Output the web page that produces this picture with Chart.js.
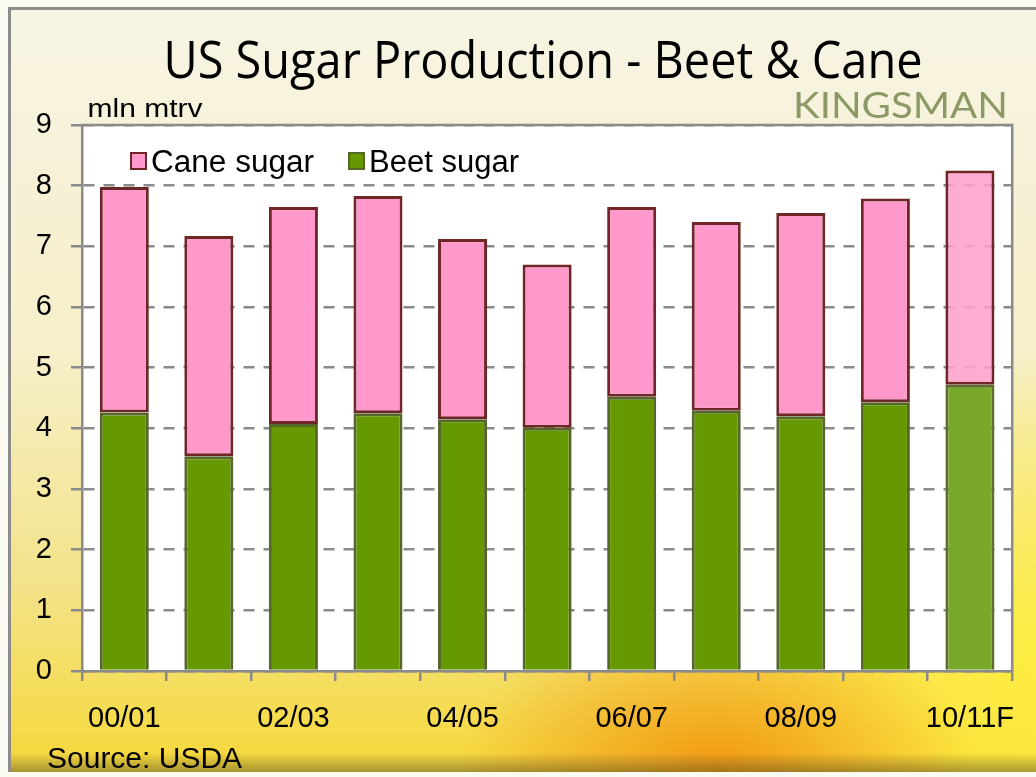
<!DOCTYPE html>
<html>
<head>
<meta charset="utf-8">
<script src="https://cdn.jsdelivr.net/npm/chart.js@4"></script>
<style>
  html, body { margin: 0; padding: 0; background: #fbfaf2; }
  #wrap { position: relative; width: 1036px; height: 777px; overflow: hidden; }
  #frame {
    position: absolute; left: 8px; top: 7px; width: 1040px; height: 762px;
    border-top: 3px solid #8c8c8c; border-left: 3px solid #8c8c8c;
    background:
      linear-gradient(to bottom, rgba(0,0,0,0) 97.5%, rgba(90,80,40,0.5) 100%),
      radial-gradient(ellipse 260px 170px at 68% 100%, rgba(240,140,10,0.85), rgba(240,150,20,0) 100%),
      radial-gradient(ellipse 500px 300px at 100% 85%, rgba(255,238,60,0.9), rgba(255,238,60,0) 100%),
      linear-gradient(to bottom, #f7f4e4 0%, #f6efc9 45%, #f3e38a 75%, #f6d838 100%);
  }
  canvas { position: absolute; left: 0; top: 0; }
</style>
</head>
<body>
<div id="wrap">
  <div id="frame"></div>
  <canvas id="chart" width="1036" height="777"></canvas>
</div>
<script>
const categories = ['00/01', '01/02', '02/03', '03/04', '04/05', '05/06', '06/07', '07/08', '08/09', '09/10', '10/11F'];
const beetSugar = [4.26, 3.54, 4.07, 4.25, 4.15, 4.01, 4.52, 4.29, 4.20, 4.43, 4.72];
const caneSugar = [3.72, 3.63, 3.58, 3.58, 2.97, 2.69, 3.13, 3.11, 3.35, 3.36, 3.53];
const yTicks = [0, 1, 2, 3, 4, 5, 6, 7, 8, 9];

const PINK = '#ff99cc';
const GREEN = '#669900';
const MAROON = '#6e2626';
const OLIVE = '#56672c';
const GRID = '#8a8a8a';
const lastIdx = categories.length - 1;

// draw text squeezed/stretched to a given width
function fitText(ctx, text, x, y, width, font, color, align) {
  ctx.save();
  ctx.font = font;
  ctx.fillStyle = color;
  ctx.textBaseline = 'alphabetic';
  ctx.textAlign = 'left';
  const w = ctx.measureText(text).width;
  const s = width / w;
  let left = x;
  if (align === 'center') left = x - width / 2;
  if (align === 'right') left = x - width;
  ctx.translate(left, y);
  ctx.scale(s, 1);
  ctx.fillText(text, 0, 0);
  ctx.restore();
}

const decor = {
  id: 'decor',
  beforeDraw(chart) {
    const { ctx, chartArea: a } = chart;
    ctx.save();
    ctx.fillStyle = '#ffffff';
    ctx.fillRect(a.left, a.top, a.right - a.left, a.bottom - a.top);
    ctx.restore();
  },
  afterDraw(chart) {
    const { ctx, chartArea: a } = chart;
    ctx.save();
    ctx.strokeStyle = GRID;
    ctx.lineWidth = 2.5;
    ctx.beginPath();
    ctx.moveTo(a.left, a.top);
    ctx.lineTo(a.right, a.top);
    ctx.lineTo(a.right, a.bottom);
    ctx.stroke();
    ctx.restore();

    fitText(ctx, 'US Sugar Production - Beet & Cane', 543, 78, 759, '52px "Open Sans"', '#000', 'center');
    fitText(ctx, 'KINGSMAN', 1008, 118, 215, '36px Lato', '#8d9965', 'right');

    ctx.save();
    ctx.fillStyle = '#000';
    ctx.textBaseline = 'alphabetic';
    fitText(ctx, 'mln mtrv', 88 + 57, 117, 115, '26px "Liberation Sans", Arial, sans-serif', '#000', 'center');
    ctx.font = '30px "Liberation Sans", Arial, sans-serif';
    ctx.fillText('Source: USDA', 47, 768);

    // legend: cane first, then beet
    const items = [
      { ds: chart.data.datasets[1], x: 131, w: 163 },
      { ds: chart.data.datasets[0], x: 349, w: 150 }
    ];
    items.forEach(it => {
      ctx.fillStyle = it.ds.legendFill;
      ctx.fillRect(it.x, 153, 15, 16);
      ctx.strokeStyle = it.ds.legendStroke;
      ctx.lineWidth = 2;
      ctx.strokeRect(it.x, 153, 15, 16);
      fitText(ctx, it.ds.label, it.x + 20, 172, it.w, '31px "Liberation Sans", Arial, sans-serif', '#000', 'left');
    });
    ctx.restore();
  }
};

new Chart(document.getElementById('chart'), {
  type: 'bar',
  data: {
    labels: categories,
    datasets: [
      {
        label: 'Beet sugar',
        data: beetSugar,
        backgroundColor: categories.map((c, i) => i === lastIdx ? '#79a82a' : GREEN),
        borderColor: categories.map((c, i) => i === lastIdx ? '#5b6e2e' : OLIVE),
        borderWidth: 3,
        borderSkipped: 'start',
        legendFill: GREEN,
        legendStroke: OLIVE
      },
      {
        label: 'Cane sugar',
        data: caneSugar,
        backgroundColor: categories.map((c, i) => i === lastIdx ? 'rgba(255,160,205,0.88)' : PINK),
        borderColor: MAROON,
        borderWidth: 3,
        borderSkipped: false,
        legendFill: PINK,
        legendStroke: MAROON
      }
    ]
  },
  options: {
    responsive: false,
    animation: false,
    layout: { padding: { top: 125, right: 22, left: 0, bottom: 0 } },
    plugins: {
      legend: { display: false },
      title: { display: false },
      tooltip: { enabled: false }
    },
    datasets: {
      bar: { barPercentage: 0.58, categoryPercentage: 1.0 }
    },
    scales: {
      x: {
        stacked: true,
        offset: true,
        afterFit: (s) => { s.height = 106; },
        grid: {
          display: true,
          offset: true,
          drawOnChartArea: false,
          drawTicks: true,
          tickLength: 10,
          color: GRID,
          lineWidth: 2.5
        },
        border: { display: true, color: GRID, width: 2.5 },
        ticks: {
          autoSkip: false,
          maxRotation: 0,
          padding: 21,
          color: '#000',
          font: { family: '"Liberation Sans", Arial, sans-serif', size: 29 },
          callback: (v, i) => (i % 2 === 0 ? categories[i] : '')
        }
      },
      y: {
        stacked: true,
        min: 0,
        max: 9,
        afterFit: (s) => { s.width = 82; },
        afterBuildTicks: (s) => { s.ticks = yTicks.map(v => ({ value: v })); },
        grid: {
          color: GRID,
          lineWidth: 2.5,
          tickLength: 11,
          tickBorderDash: [],
          borderDash: [11, 9]
        },
        border: { display: true, color: GRID, width: 2.5, dash: [11, 9] },
        ticks: {
          padding: 19,
          color: '#000',
          font: { family: '"Liberation Sans", Arial, sans-serif', size: 29 }
        }
      }
    }
  },
  plugins: [decor]
});
</script>
</body>
</html>
